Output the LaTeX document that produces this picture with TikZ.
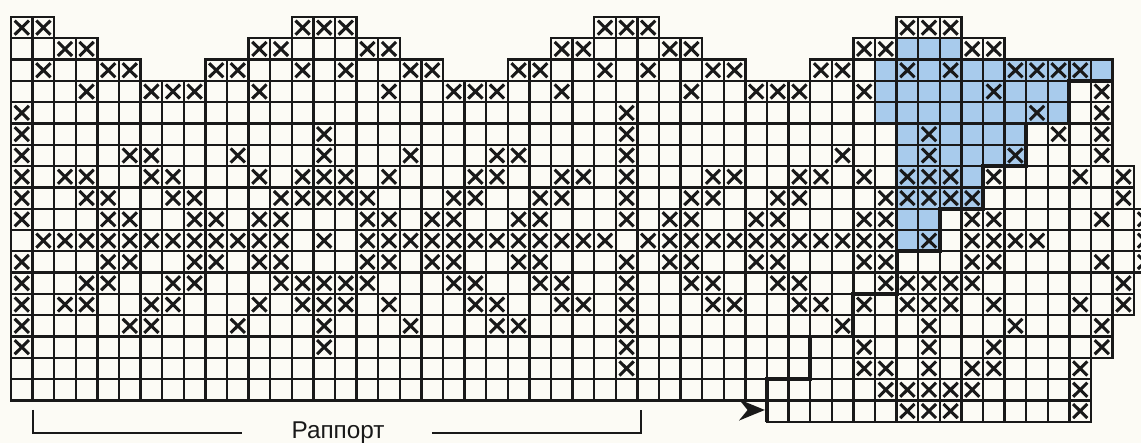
\documentclass[tikz,border=0pt]{standalone}
\usepackage{fontspec}
\setmainfont{Liberation Sans}
\definecolor{bg}{RGB}{252,251,245}
\definecolor{bluefill}{RGB}{168,203,236}
\definecolor{ink}{RGB}{25,25,25}
\begin{document}
\begin{tikzpicture}[x=0.5cm,y=-0.493055cm,
  gridline/.style={draw=ink,line width=1.5pt},
  xmark/.style={draw=ink,line width=2pt},
  stair/.style={draw=ink,line width=2.6pt,line join=miter},
  bracket/.style={draw=ink,line width=1.5pt}]
\useasboundingbox (-0.509,-0.798) rectangle (52.315,20.0);
\fill[bg] (-0.509,-0.798) rectangle (52.315,20.0);
\begin{scope}
\clip (-0.509,-0.798) rectangle (52.315,20.0);
% blue cells
\foreach \r/\a/\b in {1/41/43,2/40/50,3/40/48,4/40/48,5/41/46,6/41/46,7/41/44,8/41/44,9/41/42,10/41/42}{
  \fill[bluefill] (\a,\r) rectangle (\b+1,\r+1);
}
% grid cells
\foreach \r/\a/\b in {0/0/1,0/13/15,0/27/29,0/41/43,
  1/0/3,1/11/17,1/25/31,1/39/45,
  2/0/5,2/9/19,2/23/33,2/37/50,
  3/0/50,4/0/50,5/0/50,6/0/50,
  7/0/51,8/0/51,9/0/52,10/0/52,11/0/52,12/0/51,13/0/51,
  14/0/50,15/0/50,16/0/49,17/0/49,18/35/49}{
  \foreach \c in {\a,...,\b}{\draw[gridline] (\c,\r) rectangle ++(1,1);}
}
% crosses
\foreach \r/\lst in {
 0/{0,1,13,14,15,27,28,29,41,42,43},
 1/{2,3,11,12,16,17,25,26,30,31,39,40,44,45},
 2/{1,4,5,9,10,13,15,18,19,23,24,27,29,32,33,37,38,41,43,46,47,48,49},
 3/{3,6,7,8,11,17,20,21,22,25,31,34,35,36,39,45,50},
 4/{0,28,47,50},
 5/{0,14,28,42,48,50},
 6/{0,5,6,10,14,18,22,23,28,38,42,46,50},
 7/{0,2,3,6,7,11,13,14,15,17,21,22,25,26,28,32,33,36,37,39,41,42,43,45,49,51},
 8/{0,3,4,7,8,12,13,14,15,16,20,21,24,25,28,31,32,35,36,40,41,42,43,44,51},
 9/{0,4,5,8,9,11,12,16,17,19,20,23,24,28,30,31,34,35,39,40,44,45,50,52},
 10/{1,2,3,4,5,6,7,8,9,10,11,12,14,16,17,18,19,20,21,22,23,24,25,26,27,29,30,31,32,33,34,35,36,37,38,39,40,42,44,45,46,47,52},
 11/{0,4,5,8,9,11,12,16,17,19,20,23,24,28,30,31,34,35,39,40,44,45,50,52},
 12/{0,3,4,7,8,12,13,14,15,16,20,21,24,25,28,31,32,35,36,40,41,42,43,44,51},
 13/{0,2,3,6,7,11,13,14,15,17,21,22,25,26,28,32,33,36,37,39,41,42,43,45,49,51},
 14/{0,5,6,10,14,18,22,23,28,38,42,46,50},
 15/{0,14,28,39,42,45,50},
 16/{28,39,40,42,44,45,49},
 17/{40,41,42,43,44,49},
 18/{41,42,43,49}}{
  \foreach \c in \lst{
    \draw[xmark] (\c+0.17,\r+0.17) -- (\c+0.83,\r+0.83) (\c+0.83,\r+0.17) -- (\c+0.17,\r+0.83);
  }
}
\end{scope}
% staircase boundary
\coordinate (s0) at (35,19);
\coordinate (s1) at (51,3);
\draw[stair] (s0) -- (35,17) -- (37,17) -- (37,15) -- (39,15) -- (39,13) -- (41,13) -- (41,11) -- (43,11) -- (43,9) -- (45,9) -- (45,7) -- (47,7) -- (47,5) -- (49,5) -- (49,3) -- (s1);
% arrow
\coordinate (tip) at (34.9,18.45);
\fill[ink] (tip) -- ++(-1.2,-0.5) -- ++(0.4,0.5) -- ++(-0.4,0.5) -- cycle;
% rapport bracket
\node[font=\fontsize{16}{16}\selectfont, text=ink] (rap) at (15.14,19.5) {Раппорт};
\coordinate (bl) at (1.02,18.45);
\coordinate (br) at (29.17,18.45);
\draw[bracket] (bl) -- (1.02,19.53) -- (10.69,19.53);
\draw[bracket] (19.49,19.53) -- (29.17,19.53) -- (br);
\end{tikzpicture}
\end{document}
